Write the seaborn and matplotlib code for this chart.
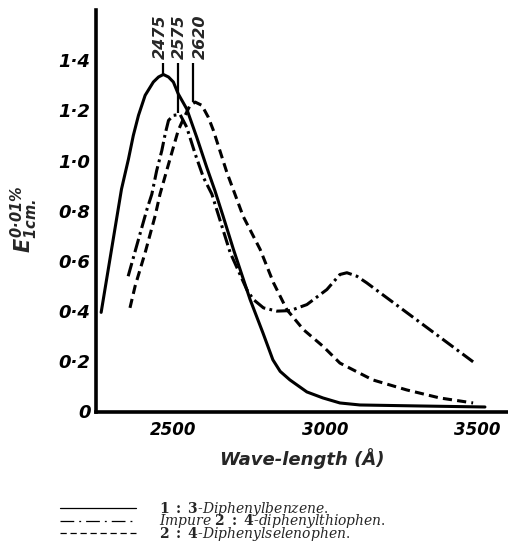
import matplotlib
matplotlib.use('Agg')
import matplotlib.pyplot as plt
import seaborn as sns
import pandas as pd
from matplotlib.lines import Line2D
from matplotlib.font_manager import FontProperties

sns.set_style('white')
plt.rcParams['font.family'] = ['DejaVu Sans']
plt.rcParams['mathtext.fontset'] = 'custom'
plt.rcParams['mathtext.rm'] = 'DejaVu Sans:bold:italic'
plt.rcParams['mathtext.it'] = 'DejaVu Sans:bold:italic'
plt.rcParams['mathtext.bf'] = 'DejaVu Sans:bold:italic'

# ---- data ----
benz_wl = [2262, 2329, 2352, 2368, 2385, 2407, 2434, 2451, 2467, 2484, 2500, 2516,
           2544, 2577, 2610, 2637, 2664, 2698, 2753, 2795, 2828, 2852, 2884, 2940,
           2993, 3049, 3115, 3313, 3527]
benz_E = [0.395, 0.886, 1.006, 1.10, 1.18, 1.26, 1.313, 1.333, 1.343, 1.333, 1.313,
          1.266, 1.206, 1.093, 0.973, 0.88, 0.778, 0.646, 0.446, 0.314, 0.206, 0.160,
          0.126, 0.078, 0.054, 0.034, 0.026, 0.022, 0.018]

thio_wl = [2351, 2382, 2413, 2429, 2445, 2462, 2473, 2484, 2500, 2522, 2544, 2572,
           2599, 2627, 2687, 2742, 2764, 2797, 2841, 2885, 2940, 3006, 3049, 3072,
           3105, 3137, 3488]
thio_E = [0.539, 0.673, 0.806, 0.866, 0.96, 1.04, 1.106, 1.16, 1.18, 1.184, 1.133,
          1.026, 0.933, 0.866, 0.634, 0.486, 0.446, 0.413, 0.40, 0.402, 0.426, 0.486,
          0.546, 0.553, 0.539, 0.513, 0.198]

sele_wl = [2357, 2374, 2407, 2440, 2456, 2478, 2500, 2516, 2533, 2555, 2572, 2594,
           2615, 2632, 2676, 2730, 2786, 2830, 2874, 2929, 2994, 3049, 3157, 3269,
           3378, 3488]
sele_E = [0.413, 0.50, 0.633, 0.78, 0.866, 0.96, 1.053, 1.12, 1.166, 1.22, 1.233,
          1.22, 1.173, 1.12, 0.954, 0.778, 0.646, 0.513, 0.406, 0.326, 0.259, 0.193,
          0.126, 0.086, 0.054, 0.034]

peak_wl = [2467, 2516, 2566]
peak_E = [1.343, 1.19, 1.233]
peak_line_top = 1.39
peak_labels = ['2475', '2575', '2620']
peak_label_wl = [2456, 2519, 2588]

xtick_vals = [2500, 3000, 3500]
xtick_labels = ['2500', '3000', '3500']
ytick_vals = [0, 0.2, 0.4, 0.6, 0.8, 1.0, 1.2, 1.4]
ytick_labels = ['0', '0·2', '0·4', '0·6', '0·8', '1·0', '1·2', '1·4']

legend_labels = [r'$\mathbf{1\ :\ 3}$-$\mathit{Diphenylbenzene.}$',
                 r'$\mathit{Impure}\ \mathbf{2\ :\ 4}$-$\mathit{diphenylthiophen.}$',
                 r'$\mathbf{2\ :\ 4}$-$\mathit{Diphenylselenophen.}$']

# ---- figure ----
fig = plt.figure(figsize=(5.08, 5.52), dpi=100)
ax = fig.add_axes([96 / 508, (552 - 411.5) / 552, (508 - 96) / 508, (411.5 - 10) / 552])

lw = 2.2
sns.lineplot(x=benz_wl, y=benz_E, ax=ax, color='black', linewidth=lw,
             linestyle='-', sort=False)
sns.lineplot(x=thio_wl, y=thio_E, ax=ax, color='black', linewidth=lw,
             linestyle=(0, (4.5, 1.4, 0.9, 1.4)), sort=False)
sns.lineplot(x=sele_wl, y=sele_E, ax=ax, color='black', linewidth=lw,
             linestyle=(0, (3.0, 1.7)), sort=False)

ax.vlines(peak_wl, peak_E, peak_line_top, color='black', linewidth=1.6)
for xw, lab in zip(peak_label_wl, peak_labels):
    ax.text(xw, 1.405, lab, rotation=90, ha='center', va='bottom',
            fontsize=11.5, fontweight='bold', fontstyle='italic')

ax.set_xlim(2245, 3603)
ax.set_ylim(0, 1.6)
for s in ['top', 'right']:
    ax.spines[s].set_visible(False)
for s in ['left', 'bottom']:
    ax.spines[s].set_linewidth(2.6)
    ax.spines[s].set_color('black')

ax.set_xticks(xtick_vals)
ax.set_xticklabels(xtick_labels)
ax.set_yticks(ytick_vals)
ax.set_yticklabels(ytick_labels)
ax.tick_params(axis='y', direction='in', length=8, width=1.8, pad=4,
               labelsize=13, colors='black')
ax.tick_params(axis='x', direction='in', length=7, width=1.4, pad=7,
               labelsize=12, colors='black')
for t in ax.get_xticklabels() + ax.get_yticklabels():
    t.set_fontweight('bold')
    t.set_fontstyle('italic')

ax.set_xlabel('Wave-length (Å)', fontsize=13, fontweight='bold', fontstyle='italic',
              labelpad=6)
ax.set_ylabel(r'$E^{0·01\%}_{1cm.}$', fontsize=15)
ax.yaxis.set_label_coords(-0.135, 0.48)

handles = [Line2D([], [], color='black', linewidth=0.9, linestyle='-'),
           Line2D([], [], color='black', linewidth=0.9, linestyle=(0, (11, 4, 1.5, 4))),
           Line2D([], [], color='black', linewidth=0.9, linestyle=(0, (5, 3)))]
prop = FontProperties(family='DejaVu Serif', size=10, math_fontfamily='dejavuserif')
leg = ax.legend(handles=handles, labels=legend_labels, loc='upper left',
                bbox_to_anchor=(60 / 508, 1 - 500 / 552), bbox_transform=fig.transFigure,
                frameon=False, prop=prop, handlelength=5.5, handletextpad=1.65,
                labelspacing=-0.4, borderpad=0, borderaxespad=0)

fig.savefig('out.png', dpi=100)
